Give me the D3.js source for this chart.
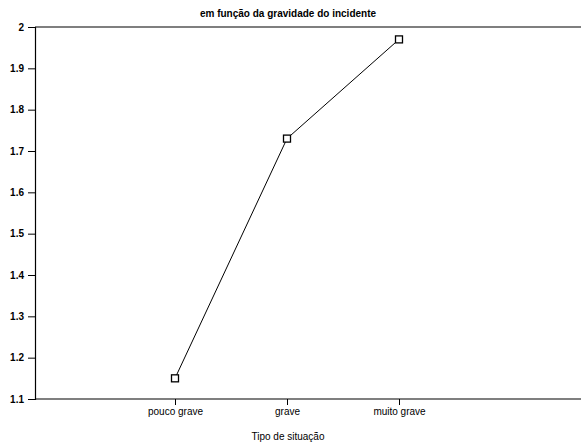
<!DOCTYPE html>
<html>
<head>
<meta charset="utf-8">
<script src="https://cdn.jsdelivr.net/npm/d3@7"></script>
<style>
  body { margin: 0; background: #fff; }
  svg { display: block; font-family: "Liberation Sans", Arial, sans-serif; }
</style>
</head>
<body>
<svg width="581" height="444"></svg>
<script>
// data
var categories = ["pouco grave", "grave", "muito grave"];
var values = [1.15, 1.73, 1.97];
var yTicks = [1.1, 1.2, 1.3, 1.4, 1.5, 1.6, 1.7, 1.8, 1.9, 2];

var width = 581, height = 444;
var plotLeft = 35, plotTop = 27, plotBottom = 399;

var svg = d3.select("svg");

// categories sit at index 1..3, axis runs a bit past them
var x = d3.scaleLinear().domain([-0.25, 4.625]).range([plotLeft, width]);
var y = d3.scaleLinear().domain([1.1, 2]).range([plotBottom, plotTop]);

// frame: top line
svg.append("line")
    .attr("x1", plotLeft).attr("x2", width)
    .attr("y1", plotTop).attr("y2", plotTop)
    .attr("stroke", "#000").attr("stroke-width", 1.2);

// y axis
var yAxis = svg.append("g")
    .attr("transform", "translate(" + plotLeft + ",0)")
    .call(d3.axisLeft(y).tickValues(yTicks).tickSize(7).tickPadding(4)
      .tickFormat(d => d === 2 ? "2" : d3.format(".1f")(d)));
yAxis.select(".domain").attr("stroke-width", 1.2);
yAxis.selectAll("text").attr("font-size", 10).attr("font-weight", "bold").attr("fill", "#000");

// x axis
var xAxis = svg.append("g")
    .attr("transform", "translate(0," + plotBottom + ")")
    .call(d3.axisBottom(x).tickValues([1, 2, 3]).tickSize(6).tickPadding(3)
      .tickFormat((d, i) => categories[i]));
xAxis.select(".domain").attr("d", "M" + plotLeft + ",0H" + width).attr("stroke-width", 1.2);
xAxis.selectAll("text").attr("font-size", 10).attr("fill", "#000");

// line + square markers
var pts = values.map((v, i) => [x(i + 1), y(v)]);
svg.append("path")
    .attr("d", d3.line()(pts))
    .attr("fill", "none").attr("stroke", "#000").attr("stroke-width", 1);

svg.selectAll(".mark")
  .data(pts)
  .enter()
    .append("rect")
    .attr("x", d => d[0] - 3.5).attr("y", d => d[1] - 3.5)
    .attr("width", 7).attr("height", 7)
    .attr("fill", "#fff").attr("stroke", "#000").attr("stroke-width", 1.3);

// titles
svg.append("text")
    .attr("x", 288).attr("y", 17)
    .attr("text-anchor", "middle")
    .attr("font-size", 10).attr("font-weight", "bold")
    .text("em função da gravidade do incidente");

svg.append("text")
    .attr("x", 288).attr("y", 440)
    .attr("text-anchor", "middle")
    .attr("font-size", 10)
    .text("Tipo de situação");
</script>
</body>
</html>
